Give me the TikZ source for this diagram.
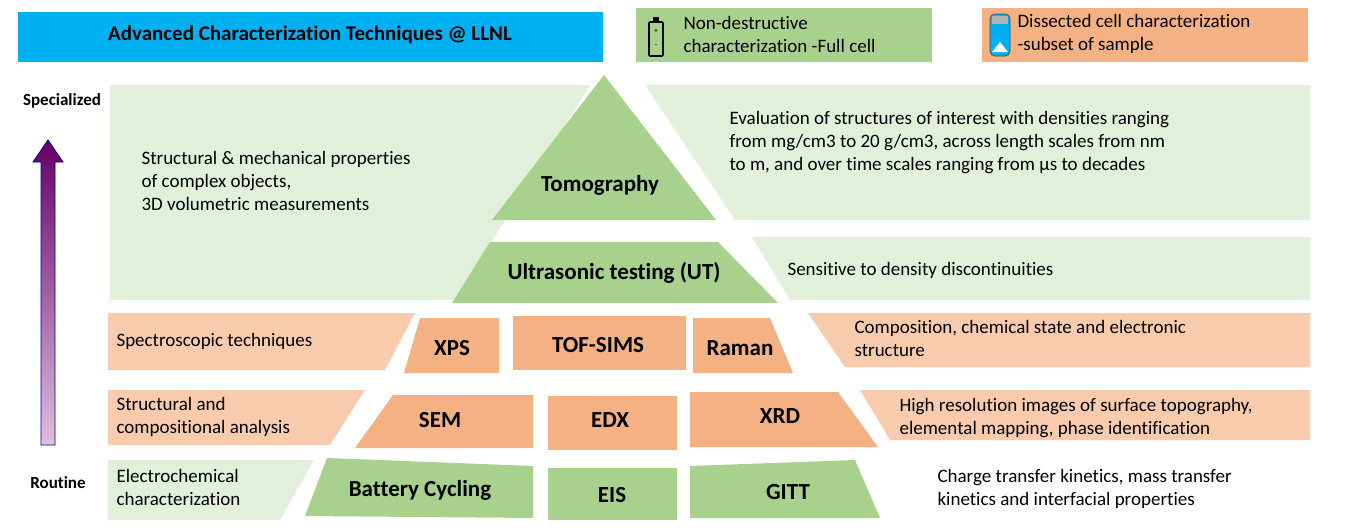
\documentclass[tikz,border=0pt]{standalone}
\usepackage{fontspec}
\setmainfont{Carlito}[Ligatures=NoCommon]
\usetikzlibrary{positioning}
\definecolor{lgreen}{RGB}{226,239,218}
\definecolor{dgreen}{RGB}{169,209,142}
\definecolor{lorange}{RGB}{248,203,173}
\definecolor{dorange}{RGB}{244,177,131}
\definecolor{titleblue}{RGB}{0,176,240}
\tikzset{
	desc/.style={font=\fontsize{19}{23}\selectfont, align=left, anchor=west},
	tech/.style={font=\fontsize{23}{27}\selectfont\bfseries}
}

\begin{document}
\begin{tikzpicture}[x=1pt, y=-1pt]
	\useasboundingbox (0,0) rectangle (1350,530);

	% legend and title
	\fill[titleblue] (18,12) rectangle (603,62);
	\node[font=\fontsize{21}{25}\selectfont\bfseries] (title) at (310,35) {Advanced Characterization Techniques @ LLNL};
	\fill[dgreen] (636,8) rectangle (932,62);
	\draw[line width=1.6pt, rounded corners=1pt] (649,22) rectangle (663,56);
	\fill (653,17) rectangle (659,22);
	\node[font=\fontsize{8}{8}\selectfont] at (656,31) {+};
	\node[font=\fontsize{8}{8}\selectfont] at (656,46) {-};
	\node[desc] (nondes) at (680,34) {Non-destructive\\characterization -Full cell};
	\fill[dorange] (982,8) rectangle (1308,62);
	\filldraw[fill=titleblue, draw=black!70, thick, rounded corners=5pt] (990,14) rectangle (1010,56);
	\fill[gray!60] (992,16) rectangle (1008,24);
	\fill[white] (992,52) -- (1000,42) -- (1008,52) -- cycle;
	\node[desc] (dissect) at (1014,34) {Dissected cell characterization\\-subset of sample};

	% top rows
	\fill[lgreen] (110,85) -- (590,85) -- (455,300) -- (110,300) -- cycle;
	\fill[lgreen] (645,85) -- (1310,85) -- (1310,220) -- (735,220) -- cycle;
	\fill[lgreen] (752,237) -- (1310,237) -- (1310,300) -- (790,300) -- cycle;
	\fill[dgreen] (604,75) -- (716,220) -- (492,220) -- cycle;
	\fill[dgreen] (490,242) -- (718,242) -- (778,303) -- (452,303) -- cycle;
	\node[tech] (tomo) at (600,185) {Tomography};
	\node[tech] (ut) at (614,273) {Ultrasonic testing (UT)};
	\node[desc] (structmech) at (138,181) {Structural \& mechanical properties\\of complex objects,\\3D volumetric measurements};
	\node[desc] (evaluation) at (726,143) {Evaluation of structures of interest with densities ranging\\from mg/cm3 to 20 g/cm3, across length scales from nm\\to m, and over time scales ranging from µs to decades};
	\node[desc] (density) at (784,270) {Sensitive to density discontinuities};

	% spectroscopy row
	\fill[lorange] (108,313) -- (415,313) -- (385,370) -- (108,370) -- cycle;
	\fill[dorange] (420,318) -- (499,318) -- (499,373) -- (404,373) -- cycle;
	\fill[dorange] (513,316) rectangle (686,370);
	\fill[dorange] (693,318) -- (770,318) -- (793,373) -- (693,373) -- cycle;
	\fill[lorange] (808,313) -- (1310,313) -- (1310,367) -- (845,367) -- cycle;
	\node[desc] (spectro) at (113,341) {Spectroscopic techniques};
	\node[tech] (xps) at (452,348) {XPS};
	\node[tech] (tofsims) at (598,345) {TOF-SIMS};
	\node[tech] (raman) at (740,348) {Raman};
	\node[desc] (compos) at (851,338) {Composition, chemical state and electronic\\structure};

	% microscopy row
	\fill[lorange] (108,390) -- (365,390) -- (330,445) -- (108,445) -- cycle;
	\fill[dorange] (393,395) -- (533,395) -- (533,448) -- (355,448) -- cycle;
	\fill[dorange] (548,396) rectangle (677,450);
	\fill[dorange] (690,392) -- (838,392) -- (878,447) -- (690,447) -- cycle;
	\fill[lorange] (860,390) -- (1310,390) -- (1310,440) -- (890,440) -- cycle;
	\node[desc] (structcomp) at (113,417) {Structural and\\compositional analysis};
	\node[tech] (sem) at (440,420) {SEM};
	\node[tech] (edx) at (610,420) {EDX};
	\node[tech] (xrd) at (780,416) {XRD};
	\node[desc] (highres) at (896,418) {High resolution images of surface topography,\\elemental mapping, phase identification};

	% electrochemistry row
	\fill[lgreen] (108,460) -- (314,460) -- (280,520) -- (108,520) -- cycle;
	\fill[dgreen] (327,458) -- (533,466) -- (533,518) -- (305,516) -- cycle;
	\fill[dgreen] (548,468) rectangle (677,520);
	\fill[dgreen] (690,466) -- (855,460) -- (880,518) -- (690,518) -- cycle;
	\node[desc] (electro) at (113,487) {Electrochemical\\characterization};
	\node[tech] (cycling) at (420,490) {Battery Cycling};
	\node[tech] (eis) at (612,495) {EIS};
	\node[tech] (gitt) at (788,492) {GITT};
	\node[desc] (charge) at (934,489) {Charge transfer kinetics, mass transfer\\kinetics and interfacial properties};

	% routine to specialized arrow
	\shade[top color=violet!80!black, bottom color=violet!25, draw=blue!60!black, thick]
		(41,445) -- (41,162) -- (33,162) -- (48,140) -- (63,162) -- (55,162) -- (55,445) -- cycle;
	\node[font=\fontsize{17}{19}\selectfont\bfseries] (special) at (62,101) {Specialized};
	\node[font=\fontsize{17}{19}\selectfont\bfseries] (routine) at (58,483) {Routine};
\end{tikzpicture}
\end{document}
